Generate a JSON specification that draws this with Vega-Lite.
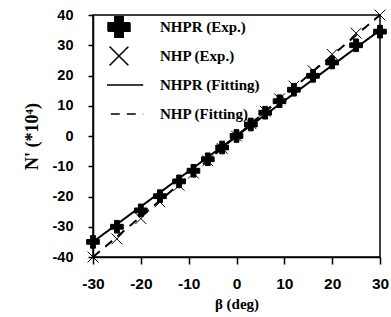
{
  "$schema": "https://vega.github.io/schema/vega-lite/v6.json",
  "width": 287,
  "height": 242,
  "autosize": "none",
  "padding": {"left": 93, "top": 15, "right": 11, "bottom": 60},
  "background": "white",
  "config": {
    "view": {"stroke": "black", "strokeWidth": 1.5},
    "axis": {
      "grid": false,
      "domainColor": "black",
      "domainWidth": 1.5,
      "tickColor": "black",
      "tickWidth": 1.5,
      "labelColor": "black",
      "labelFont": "Liberation Sans",
      "labelFontWeight": "bold",
      "labelFlush": false,
      "labelExpr": "'' + datum.value",
      "titleColor": "black",
      "titleFont": "Liberation Serif",
      "titleFontWeight": "bold"
    },
    "legend": {
      "labelFont": "Liberation Serif",
      "labelFontWeight": "bold",
      "labelFontSize": 15,
      "labelColor": "black",
      "orient": "none",
      "legendX": 14,
      "legendY": 1,
      "symbolSize": 484,
      "symbolStrokeColor": "black",
      "symbolStrokeWidth": 1.5,
      "labelOffset": 29,
      "rowPadding": 7,
      "clipHeight": 22,
      "padding": 0
    }
  },
  "datasets": {
    "exp": [
      {"series": "NHPR (Exp.)", "beta": -30, "n": -35},
      {"series": "NHPR (Exp.)", "beta": -25, "n": -30},
      {"series": "NHPR (Exp.)", "beta": -20, "n": -24.6},
      {"series": "NHPR (Exp.)", "beta": -16, "n": -19.9},
      {"series": "NHPR (Exp.)", "beta": -12, "n": -15},
      {"series": "NHPR (Exp.)", "beta": -9, "n": -11.5},
      {"series": "NHPR (Exp.)", "beta": -6, "n": -7.7},
      {"series": "NHPR (Exp.)", "beta": -3, "n": -3.8},
      {"series": "NHPR (Exp.)", "beta": 0, "n": 0},
      {"series": "NHPR (Exp.)", "beta": 3, "n": 3.8},
      {"series": "NHPR (Exp.)", "beta": 6, "n": 7.7},
      {"series": "NHPR (Exp.)", "beta": 9, "n": 11.5},
      {"series": "NHPR (Exp.)", "beta": 12, "n": 15.3},
      {"series": "NHPR (Exp.)", "beta": 16, "n": 19.9},
      {"series": "NHPR (Exp.)", "beta": 20, "n": 24.3},
      {"series": "NHPR (Exp.)", "beta": 25, "n": 30},
      {"series": "NHPR (Exp.)", "beta": 30, "n": 34.5},
      {"series": "NHP (Exp.)", "beta": -30, "n": -40},
      {"series": "NHP (Exp.)", "beta": -25, "n": -34},
      {"series": "NHP (Exp.)", "beta": -20, "n": -27.3},
      {"series": "NHP (Exp.)", "beta": -16, "n": -21.8},
      {"series": "NHP (Exp.)", "beta": -12, "n": -16.3},
      {"series": "NHP (Exp.)", "beta": -9, "n": -12.3},
      {"series": "NHP (Exp.)", "beta": -6, "n": -8.2},
      {"series": "NHP (Exp.)", "beta": -3, "n": -4.1},
      {"series": "NHP (Exp.)", "beta": 0, "n": 0},
      {"series": "NHP (Exp.)", "beta": 3, "n": 4.1},
      {"series": "NHP (Exp.)", "beta": 6, "n": 8.2},
      {"series": "NHP (Exp.)", "beta": 9, "n": 12.3},
      {"series": "NHP (Exp.)", "beta": 12, "n": 16.5},
      {"series": "NHP (Exp.)", "beta": 16, "n": 21.6},
      {"series": "NHP (Exp.)", "beta": 20, "n": 27},
      {"series": "NHP (Exp.)", "beta": 25, "n": 34},
      {"series": "NHP (Exp.)", "beta": 30, "n": 40}
    ],
    "fit": [
      {"series": "NHPR (Fitting)", "beta": -30, "n": -35},
      {"series": "NHPR (Fitting)", "beta": 30, "n": 35},
      {"series": "NHP (Fitting)", "beta": -30, "n": -40},
      {"series": "NHP (Fitting)", "beta": 30, "n": 40}
    ]
  },
  "encoding": {
    "x": {
      "field": "beta", "type": "quantitative",
      "scale": {"domain": [-30, 30], "nice": false},
      "axis": {"values": [-30, -20, -10, 0, 10, 20, 30], "title": "β (deg)", "titleFontSize": 15, "labelFontSize": 15.5, "tickSize": 7, "labelPadding": 12, "titlePadding": 5}
    },
    "y": {
      "field": "n", "type": "quantitative",
      "scale": {"domain": [-40, 40], "nice": false},
      "axis": {"values": [-40, -30, -20, -10, 0, 10, 20, 30, 40], "title": "N' (*10⁴)", "titleFontSize": 18, "labelFontSize": 14.5, "tickSize": 5, "labelPadding": 15, "titlePadding": 11}
    }
  },
  "layer": [
    {
      "data": {"name": "fit"},
      "mark": {"type": "line", "color": "black", "strokeWidth": 2},
      "encoding": {
        "strokeDash": {
          "field": "series", "type": "nominal",
          "scale": {"domain": ["NHPR (Exp.)", "NHP (Exp.)", "NHPR (Fitting)", "NHP (Fitting)"], "range": [[1, 0], [1, 0], [1, 0], [9, 7]]},
          "legend": {"title": null, "encode": {"symbols": {"update": {"stroke": {"value": "black"}, "strokeWidth": {"value": 1.5}, "opacity": {"value": 1}}}}}
        }
      }
    },
    {
      "data": {"name": "exp"},
      "mark": {"type": "point", "filled": true, "stroke": "black", "strokeWidth": 1, "opacity": 1, "size": 160},
      "encoding": {
        "shape": {
          "field": "series", "type": "nominal",
          "scale": {"domain": ["NHPR (Exp.)", "NHP (Exp.)", "NHPR (Fitting)", "NHP (Fitting)"], "range": ["M-0.38,-1H0.38V-0.38H1V0.38H0.38V1H-0.38V0.38H-1V-0.38H-0.38Z", "M-0.85,-0.85L0.85,0.85M-0.85,0.85L0.85,-0.85", "M-2.2,0L2.2,0", "M-2.2,0L2.2,0"]},
          "legend": {"title": null, "encode": {"symbols": {"update": {"stroke": {"value": "black"}, "strokeWidth": {"value": 1.5}, "opacity": {"value": 1}}}}}
        },
        "fill": {
          "field": "series", "type": "nominal",
          "scale": {"domain": ["NHPR (Exp.)", "NHP (Exp.)", "NHPR (Fitting)", "NHP (Fitting)"], "range": ["black", "transparent", "transparent", "transparent"]},
          "legend": {"title": null, "encode": {"symbols": {"update": {"stroke": {"value": "black"}, "strokeWidth": {"value": 1.5}, "opacity": {"value": 1}}}}}
        }
      }
    }
  ]
}
